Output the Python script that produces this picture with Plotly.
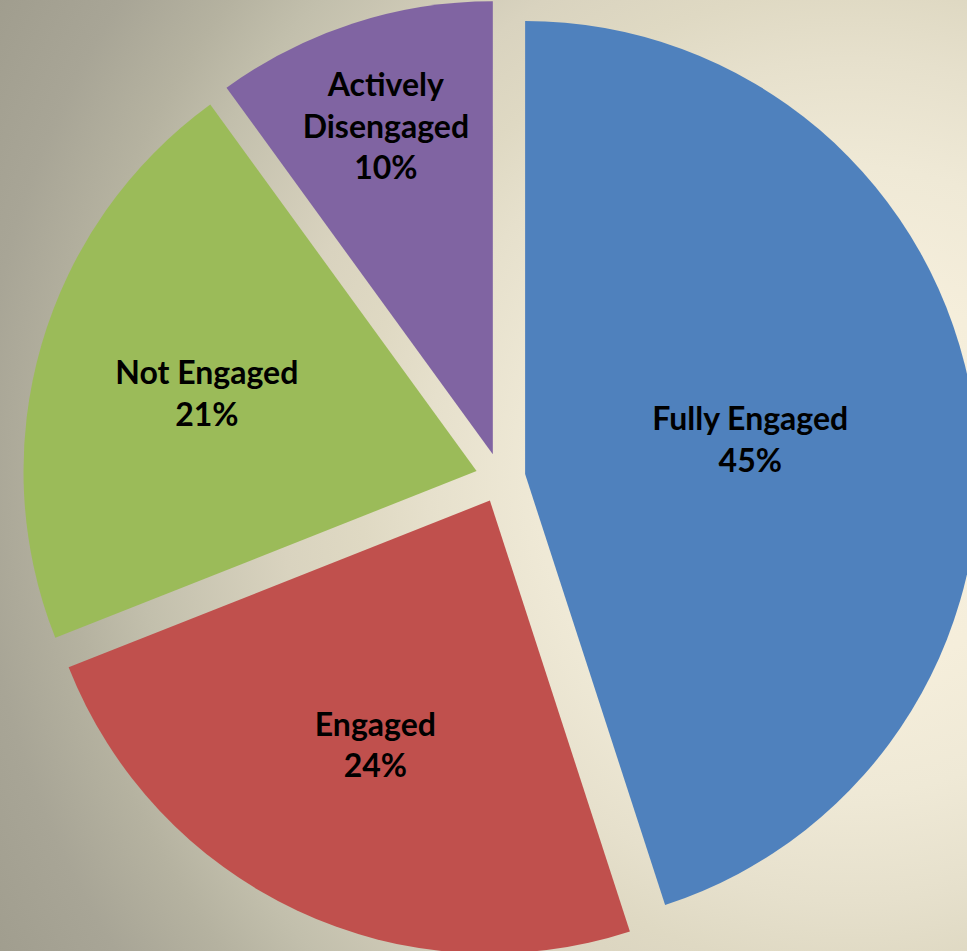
import base64
import plotly.graph_objects as go

# Data
categories = ["Fully Engaged", "Engaged", "Not Engaged", "Actively<br>Disengaged"]
values = [45, 24, 21, 10]
colors = ["#4f81bd", "#c0504d", "#9bbb59", "#8064a2"]

# The original chart's pie runs slightly past the right and bottom edges of the
# 967x951 view, so the figure is a little larger and the page clips it.
W, H = 1001, 956

# Background: soft radial gradient (cream on the right, grey-brown on the left)
svg = f'''<svg xmlns="http://www.w3.org/2000/svg" width="{W}" height="{H}" viewBox="0 0 {W} {H}" preserveAspectRatio="none">
<defs><radialGradient id="g" gradientUnits="userSpaceOnUse" cx="850" cy="480" r="980">
<stop offset="0" stop-color="#f8f1de"/>
<stop offset="0.2" stop-color="#f5eedb"/>
<stop offset="0.32" stop-color="#efe9d6"/>
<stop offset="0.43" stop-color="#e6e0cc"/>
<stop offset="0.5" stop-color="#dfd9c3"/>
<stop offset="0.58" stop-color="#d9d3bf"/>
<stop offset="0.73" stop-color="#c2bfac"/>
<stop offset="0.8" stop-color="#b5b2a0"/>
<stop offset="0.89" stop-color="#a8a596"/>
<stop offset="1" stop-color="#a09d8e"/>
</radialGradient></defs>
<rect x="0" y="0" width="{W}" height="{H}" fill="url(#g)"/>
</svg>'''
bg_src = "data:image/svg+xml;base64," + base64.b64encode(svg.encode()).decode()

fig = go.Figure(
    go.Pie(
        labels=categories,
        values=values,
        sort=False,
        direction="clockwise",
        rotation=0,
        pull=0.055,
        marker=dict(colors=colors, line=dict(width=0)),
        textinfo="label+percent",
        texttemplate="<b>%{label}<br>%{percent:.0%}</b>",
        textposition="inside",
        insidetextorientation="horizontal",
        textfont=dict(family="Lato", size=32, color="black"),
        hoverinfo="skip",
        showlegend=False,
        domain=dict(x=[0, 1], y=[0, 1]),
    )
)

fig.update_layout(
    width=W,
    height=H,
    margin=dict(l=0, r=0, t=0, b=0),
    paper_bgcolor="#e8e2cd",
    plot_bgcolor="rgba(0,0,0,0)",
    uniformtext=dict(minsize=32, mode="show"),
    images=[dict(
        source=bg_src, xref="paper", yref="paper", x=0, y=1,
        sizex=1, sizey=1, sizing="stretch", layer="below",
        xanchor="left", yanchor="top",
    )],
)

fig.write_html(
    "out.html",
    config={"displayModeBar": False},
    post_script="document.documentElement.style.overflow='hidden';"
                "document.body.style.overflow='hidden';document.body.style.margin='0';",
)
